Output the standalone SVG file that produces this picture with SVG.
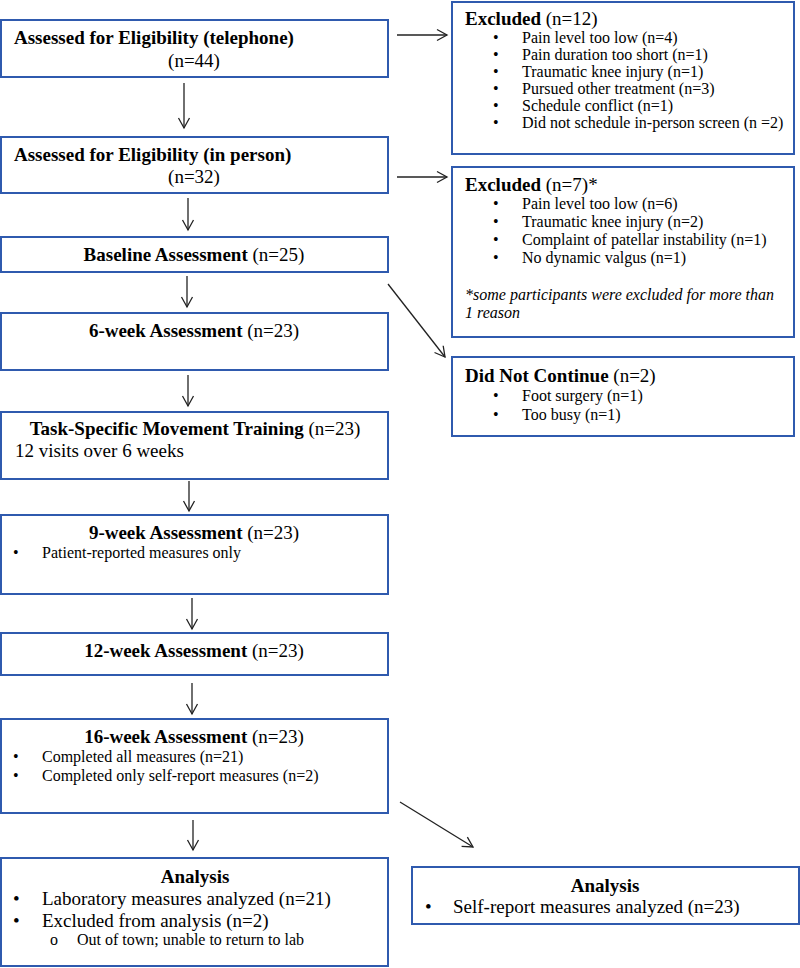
<svg xmlns="http://www.w3.org/2000/svg" width="800" height="968" viewBox="0 0 800 968">
<defs>
<marker id="ah" markerUnits="userSpaceOnUse" markerWidth="14" markerHeight="14" refX="11" refY="6" orient="auto" viewBox="0 0 14 12">
<path d="M1,0.5 L11,6 L1,11.5" fill="none" stroke="#222" stroke-width="1.3"/>
</marker>
</defs>
<style>
rect.box{fill:#fff;stroke:#2F5AAE;stroke-width:2}
text{font-family:"Liberation Serif","Times New Roman",serif;fill:#000}
.t{font-size:19px}
.b{font-weight:bold}
.c{text-anchor:middle}
.s{font-size:16px}
.r{font-size:16px}
.i{font-style:italic}
.conn line{stroke:#222;stroke-width:1.3;marker-end:url(#ah)}
</style>
<rect width="800" height="968" fill="#fff"/>

<g id="tel">
<rect class="box" x="1" y="20" width="387" height="57"/>
<text class="t" x="14" y="44"><tspan class="b">Assessed for Eligibility (telephone)</tspan></text>
<text class="t c" x="194" y="67">(n=44)</text>
</g>
<g id="inperson">
<rect class="box" x="1" y="137" width="387" height="56"/>
<text class="t" x="14" y="161"><tspan class="b">Assessed for Eligibility (in person)</tspan></text>
<text class="t c" x="194" y="183">(n=32)</text>
</g>
<g id="baseline">
<rect class="box" x="1" y="237" width="387" height="35"/>
<text class="t c" x="194" y="261"><tspan class="b">Baseline Assessment</tspan> (n=25)</text>
</g>
<g id="week6">
<rect class="box" x="1" y="313" width="387" height="57"/>
<text class="t c" x="194" y="337"><tspan class="b">6-week Assessment</tspan> (n=23)</text>
</g>
<g id="training">
<rect class="box" x="1" y="412" width="387" height="67"/>
<text class="t c" x="195" y="435"><tspan class="b">Task-Specific Movement Training</tspan> (n=23)</text>
<text class="t" x="15" y="457">12 visits over 6 weeks</text>
</g>
<g id="week9">
<rect class="box" x="1" y="515" width="387" height="79"/>
<text class="t c" x="194" y="539"><tspan class="b">9-week Assessment</tspan> (n=23)</text>
<text class="s" x="13" y="558">•</text>
<text class="s" x="42" y="558">Patient-reported measures only</text>
</g>
<g id="week12">
<rect class="box" x="1" y="633" width="387" height="42"/>
<text class="t c" x="194" y="657"><tspan class="b">12-week Assessment</tspan> (n=23)</text>
</g>
<g id="week16">
<rect class="box" x="1" y="719" width="387" height="94"/>
<text class="t c" x="194" y="743"><tspan class="b">16-week Assessment</tspan> (n=23)</text>
<text class="s" x="13" y="762">•</text>
<text class="s" x="42" y="762">Completed all measures (n=21)</text>
<text class="s" x="13" y="781">•</text>
<text class="s" x="42" y="781">Completed only self-report measures (n=2)</text>
</g>
<g id="analysis1">
<rect class="box" x="1" y="858" width="387" height="108"/>
<text class="t c b" x="195" y="883">Analysis</text>
<text class="t" x="13" y="905">•</text>
<text class="t" x="42" y="905">Laboratory measures analyzed (n=21)</text>
<text class="t" x="13" y="927">•</text>
<text class="t" x="42" y="927">Excluded from analysis (n=2)</text>
<text class="s" x="50" y="945">o</text>
<text class="s" x="77" y="945">Out of town; unable to return to lab</text>
</g>

<g id="excluded1">
<rect class="box" x="452" y="2" width="342" height="152"/>
<text class="t" x="465" y="25"><tspan class="b">Excluded</tspan> (n=12)</text>
<text class="r" x="493" y="43">•</text><text class="r" x="522" y="43">Pain level too low (n=4)</text>
<text class="r" x="493" y="60">•</text><text class="r" x="522" y="60">Pain duration too short (n=1)</text>
<text class="r" x="493" y="77">•</text><text class="r" x="522" y="77">Traumatic knee injury (n=1)</text>
<text class="r" x="493" y="94">•</text><text class="r" x="522" y="94">Pursued other treatment (n=3)</text>
<text class="r" x="493" y="111">•</text><text class="r" x="522" y="111">Schedule conflict (n=1)</text>
<text class="r" x="493" y="128">•</text><text class="r" x="522" y="128">Did not schedule in-person screen (n =2)</text>
</g>
<g id="excluded2">
<rect class="box" x="452" y="167" width="342" height="170"/>
<text class="t" x="465" y="191"><tspan class="b">Excluded</tspan> (n=7)*</text>
<text class="r" x="493" y="209">•</text><text class="r" x="522" y="209">Pain level too low (n=6)</text>
<text class="r" x="493" y="227">•</text><text class="r" x="522" y="227">Traumatic knee injury (n=2)</text>
<text class="r" x="493" y="245">•</text><text class="r" x="522" y="245">Complaint of patellar instability (n=1)</text>
<text class="r" x="493" y="263">•</text><text class="r" x="522" y="263">No dynamic valgus (n=1)</text>
<text class="r i" x="465" y="300">*some participants were excluded for more than</text>
<text class="r i" x="465" y="318">1 reason</text>
</g>
<g id="dnc">
<rect class="box" x="452" y="357" width="342" height="79"/>
<text class="t" x="465" y="382"><tspan class="b">Did Not Continue</tspan> (n=2)</text>
<text class="r" x="493" y="401">•</text><text class="r" x="522" y="401">Foot surgery (n=1)</text>
<text class="r" x="493" y="420">•</text><text class="r" x="522" y="420">Too busy (n=1)</text>
</g>
<g id="analysis2">
<rect class="box" x="412" y="867" width="387" height="57"/>
<text class="t c b" x="605" y="892">Analysis</text>
<text class="t" x="425" y="913">•</text>
<text class="t" x="453" y="913">Self-report measures analyzed (n=23)</text>
</g>

<g id="connectors" class="conn">
<line x1="184" y1="83" x2="184" y2="128"/>
<line x1="188" y1="198" x2="188" y2="230"/>
<line x1="187" y1="276" x2="187" y2="307"/>
<line x1="188" y1="375" x2="188" y2="406"/>
<line x1="189" y1="481" x2="189" y2="511"/>
<line x1="192" y1="598" x2="192" y2="629"/>
<line x1="192" y1="683" x2="192" y2="714"/>
<line x1="193" y1="820" x2="193" y2="850"/>
<line x1="397" y1="35" x2="447" y2="35"/>
<line x1="397" y1="177" x2="447" y2="177"/>
<line x1="388" y1="284" x2="445" y2="357"/>
<line x1="400" y1="802" x2="473" y2="847"/>
</g>
</svg>
